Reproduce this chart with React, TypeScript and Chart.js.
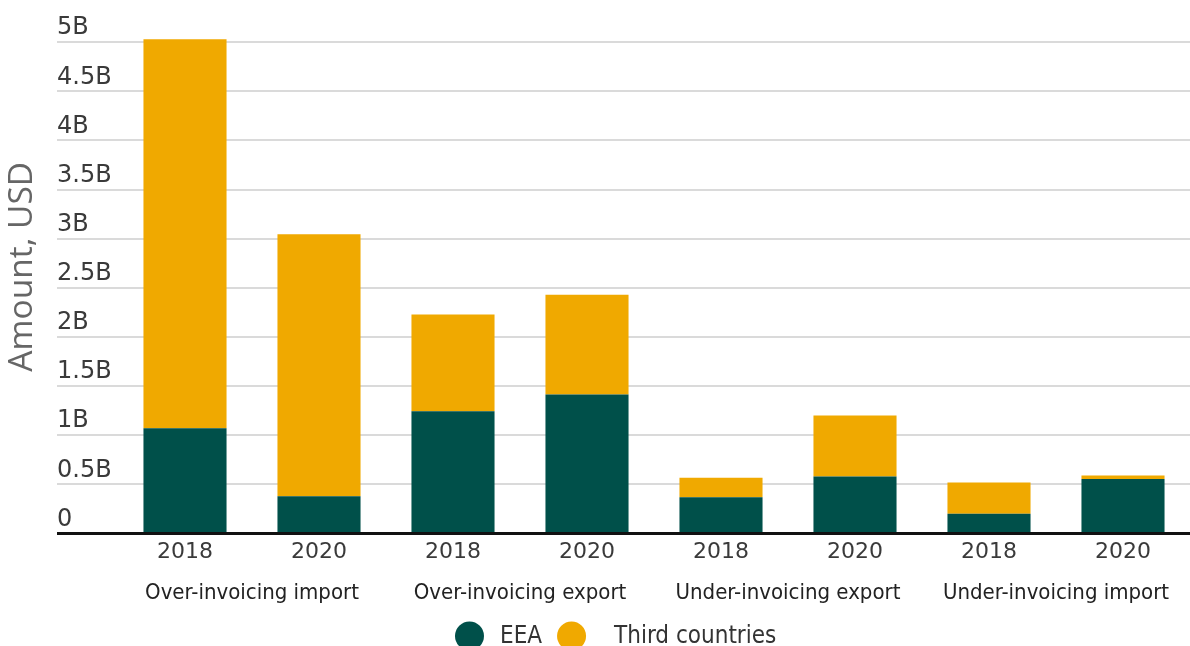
import React, { useEffect, useRef } from 'react';
import { Chart, registerables } from 'chart.js';

Chart.register(...registerables);

// ---- Data ----
const years = ['2018', '2020', '2018', '2020', '2018', '2020', '2018', '2020'];
const groups = ['Over-invoicing import', 'Over-invoicing export', 'Under-invoicing export', 'Under-invoicing import'];
const eea = [1.07, 0.38, 1.245, 1.415, 0.37, 0.58, 0.2, 0.555];
const thirdCountries = [3.96, 2.665, 0.985, 1.015, 0.197, 0.62, 0.32, 0.035];
const yTickValues = [0, 0.5, 1, 1.5, 2, 2.5, 3, 3.5, 4, 4.5, 5];
const yTickLabels = ['0', '0.5B', '1B', '1.5B', '2B', '2.5B', '3B', '3.5B', '4B', '4.5B', '5B'];
const seriesNames = ['EEA', 'Third countries'];

// ---- Style ----
const GREEN = '#00504a';
const YELLOW = '#f0a900';
const GRID = '#dadada';
const LEGEND_X = 455;
const LEGEND_Y = 636;
const LEGEND_R = 14.5;
const LEGEND_GAPS = [16, 28];

const legendPlugin = {
  id: 'customLegend',
  afterDraw(chart: any) {
    const ctx = chart.ctx;
    ctx.save();
    ctx.font = '24px "DejaVu Sans Condensed"';
    ctx.textBaseline = 'middle';
    ctx.textAlign = 'left';
    let x = LEGEND_X;
    chart.data.datasets.forEach((ds: any, i: number) => {
      ctx.fillStyle = ds.backgroundColor;
      ctx.beginPath();
      ctx.arc(x + LEGEND_R, LEGEND_Y, LEGEND_R, 0, Math.PI * 2);
      ctx.fill();
      x += LEGEND_R * 2 + LEGEND_GAPS[i];
      ctx.fillStyle = '#333';
      ctx.fillText(ds.label, x, LEGEND_Y + 1);
      x += ctx.measureText(ds.label).width + 15;
    });
    ctx.restore();
  },
};

export default function App() {
  const ref = useRef<HTMLCanvasElement>(null);

  useEffect(() => {
    if (!ref.current) return;
    Chart.defaults.font.family = '"DejaVu Sans", Verdana, sans-serif';
    const chart = new Chart(ref.current, {
      type: 'bar',
      data: {
        labels: years,
        datasets: [
          { label: seriesNames[0], data: eea, backgroundColor: GREEN, borderWidth: 0, categoryPercentage: 1, barPercentage: 0.62 },
          { label: seriesNames[1], data: thirdCountries, backgroundColor: YELLOW, borderWidth: 0, categoryPercentage: 1, barPercentage: 0.62 },
        ],
      },
      options: {
        responsive: false,
        animation: false,
        layout: { padding: { left: 0, right: 0, top: 0, bottom: 31.5 } },
        plugins: {
          legend: { display: false },
          tooltip: { enabled: false },
          title: {
            display: true,
            position: 'left',
            fullSize: false,
            text: 'Amount, USD',
            color: '#666',
            font: { family: '"Open Sans"', size: 33.5, weight: 'normal' },
            padding: { top: 2, bottom: 14.8 },
          },
        },
        scales: {
          x: {
            stacked: true,
            offset: true,
            grid: { display: false, drawTicks: false },
            border: { display: true, color: '#111', width: 3 },
            ticks: { color: '#3a3a3a', font: { size: 22 }, padding: 5.8, maxRotation: 0, autoSkip: false },
          },
          x2: {
            type: 'category',
            labels: groups,
            position: 'bottom',
            weight: 1,
            offset: true,
            grid: { display: false, drawTicks: false },
            border: { display: false },
            ticks: { color: '#222', font: { family: '"DejaVu Sans Condensed"', size: 22 }, padding: 8.3, maxRotation: 0, autoSkip: false },
          },
          y: {
            stacked: true,
            min: 0,
            max: 5.43,
            afterBuildTicks: (scale: any) => {
              scale.ticks = yTickValues.map((v) => ({ value: v }));
            },
            afterFit: (scale: any) => {
              scale.width = 61;
              scale.paddingTop = 0;
              scale.paddingBottom = 0;
            },
            grid: {
              color: (c: any) => (c.tick && c.tick.value === 0 ? '#111' : GRID),
              lineWidth: (c: any) => (c.tick && c.tick.value === 0 ? 3 : 2),
              drawTicks: true,
              tickLength: 61,
            },
            border: { display: false },
            ticks: {
              crossAlign: 'far',
              labelOffset: -14,
              color: '#3a3a3a',
              font: { size: 24 },
              callback: (v: any) => {
                const i = yTickValues.indexOf(Number(v));
                return i >= 0 ? yTickLabels[i] : '';
              },
            },
          },
        },
      },
      plugins: [legendPlugin],
    } as any);
    return () => chart.destroy();
  }, []);

  return (
    <div style={{ position: 'absolute', left: 0, top: 0, width: 1190, height: 646, background: '#fff' }}>
      <canvas ref={ref} width={1190} height={646} style={{ width: 1190, height: 646, display: 'block' }} />
    </div>
  );
}
